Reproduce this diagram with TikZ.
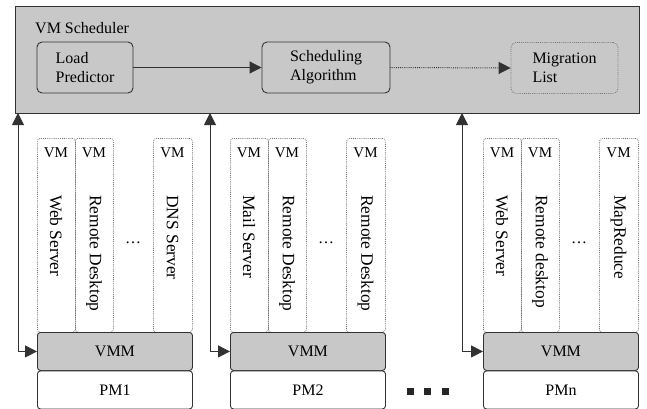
\documentclass[tikz,border=0pt]{standalone}
\usepackage{fontspec}
\setmainfont{Liberation Serif}
\usetikzlibrary{arrows.meta}
\definecolor{boxgray}{RGB}{200,200,200}
\definecolor{linegray}{RGB}{50,50,50}
\definecolor{dotgray}{RGB}{115,115,115}
\tikzset{
  txt/.style={font=\fontsize{16}{19}\selectfont, text=black},
  vmlabel/.style={font=\fontsize{15}{17}\selectfont, inner sep=0},
  vmtxt/.style={font=\fontsize{17.4}{19}\selectfont, inner sep=0, rotate=-90, anchor=west},
  outer/.style={draw=linegray, line width=1.1pt, fill=boxgray, inner sep=0, anchor=north west},
  module/.style={draw=linegray, line width=0.9pt, rounded corners=5pt,
    minimum height=51pt, align=left, txt, inner sep=0},
  dotbox/.style={draw=dotgray, line width=0.75pt, dash pattern=on 0.8pt off 1.1pt},
  vmcol/.style={dotbox, rounded corners=3pt, inner sep=0, anchor=north west,
    minimum height=194pt},
  layer/.style={draw=linegray, line width=0.9pt, rounded corners=3pt, inner sep=0,
    anchor=north west, minimum width=155pt, minimum height=38pt, txt},
  conn/.style={draw=linegray, line width=1pt},
  dotmark/.style={fill=black!85, minimum size=7pt, inner sep=0}
}
\begin{document}
\begin{tikzpicture}[x=1pt,y=-1pt, >={Triangle[length=12pt,width=12pt]}]
\useasboundingbox (0,0) rectangle (647,409);

% scheduler frame with its three modules
\node[outer, minimum width=624pt, minimum height=107pt] (sched) at (15,6) {};
\node[txt, anchor=base west, inner sep=0] (schedlabel) at (35,34) {VM Scheduler};
\node[module, minimum width=96pt] (load) at (85,67.5) {Load\\Predictor};
\node[module, minimum width=128pt] (algo) at (326,67.5) {Scheduling\\Algorithm};
\node[module, dotbox, minimum width=107pt, text=black] (migr) at (564.5,68) {Migration\\List};

\draw[conn, ->] (load.east) -- (algo.west);
\draw[conn, dash pattern=on 0.8pt off 1.1pt, ->] (algo.east) -- (migr.west);

% physical machines, each with VMM and three VM columns
\foreach \x/\n/\a/\b/\c/\pm/\ux in {
  37/1/Web Server/Remote Desktop/DNS Server/PM1/18,
  230/2/Mail Server/Remote Desktop/Remote Desktop/PM2/210,
  483/n/Web Server/Remote desktop/MapReduce/PMn/462}{
  \node[vmcol, minimum width=38pt] (vma\n) at (\x,138) {};
  \node[vmcol, minimum width=38pt] (vmb\n) at (\x+38,138) {};
  \node[vmcol, minimum width=39pt] (vmc\n) at (\x+116,138) {};
  \node[vmlabel] (la\n) at (\x+19,153) {VM};
  \node[vmlabel] (lb\n) at (\x+57,153) {VM};
  \node[vmlabel] (lc\n) at (\x+135.5,153) {VM};
  \node[vmtxt] (ta\n) at (\x+19,195) {\a};
  \node[vmtxt] (tb\n) at (\x+57,195) {\b};
  \node[vmtxt] (tc\n) at (\x+135.5,195) {\c};
  \node[txt, inner sep=0] (el\n) at (\x+96,243) {…};
  \node[layer, fill=boxgray] (vmm\n) at (\x,332) {VMM};
  \node[layer, fill=white] (pm\n) at (\x,370.5) {\pm};
  \coordinate (up\n) at (\ux,113);
  \draw[conn, <->] (up\n) |- (vmm\n.west);
}

% more machines in between
\node[dotmark] (m1) at (410,391) {};
\node[dotmark] (m2) at (427.5,391) {};
\node[dotmark] (m3) at (445,391) {};
\end{tikzpicture}
\end{document}
